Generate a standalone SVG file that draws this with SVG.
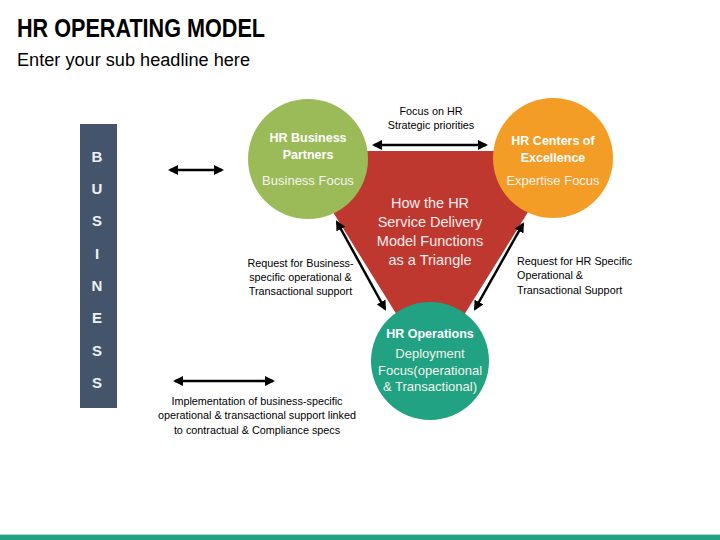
<svg xmlns="http://www.w3.org/2000/svg" width="720" height="540" viewBox="0 0 720 540">
<defs>
<marker id="ah" viewBox="0 0 10 10" refX="8" refY="5" markerWidth="4" markerHeight="4" orient="auto-start-reverse" markerUnits="strokeWidth">
<path d="M0,0 L10,5 L0,10 Z" fill="#000"/>
</marker>
<style>
text{font-family:"Liberation Sans",Arial,sans-serif}
.t{font-size:25px;font-weight:bold;fill:#000}
.s{font-size:18px;fill:#000}
.bl{font-size:15px;font-weight:bold;fill:#EEF0F3;text-anchor:middle}
.nh{font-size:12.5px;font-weight:bold;fill:#fff;text-anchor:middle}
.nb{font-size:13px;fill:#F4F4EC;text-anchor:middle}
.ct{font-size:14.5px;fill:#FBEDEC;text-anchor:middle}
.lb{font-size:10.8px;fill:#000}
.con{stroke:#000;stroke-width:2.5;fill:none;marker-start:url(#ah);marker-end:url(#ah)}
</style>
</defs>
<rect width="720" height="540" fill="#fff"/>
<text class="t" x="17" y="37" textLength="248" lengthAdjust="spacingAndGlyphs">HR OPERATING MODEL</text>
<text class="s" x="17" y="66" textLength="233" lengthAdjust="spacingAndGlyphs">Enter your sub headline here</text>

<g id="business">
<rect x="80" y="124" width="37" height="284" fill="#44546A"/>
<text class="bl" x="97" y="162">B</text>
<text class="bl" x="97" y="194">U</text>
<text class="bl" x="97" y="226">S</text>
<text class="bl" x="97" y="259">I</text>
<text class="bl" x="97" y="291">N</text>
<text class="bl" x="97" y="323">E</text>
<text class="bl" x="97" y="356">S</text>
<text class="bl" x="97" y="388">S</text>
</g>

<g id="triangle">
<polygon points="295,151 566,151 430.5,369" fill="#BF3830"/>
<text class="ct" x="430" y="208">How the HR</text>
<text class="ct" x="430" y="227">Service Delivery</text>
<text class="ct" x="430" y="246">Model Functions</text>
<text class="ct" x="430" y="265">as a Triangle</text>
</g>

<g id="hr-business-partners">
<circle cx="308" cy="159" r="60" fill="#9BBB59"/>
<text class="nh" x="308" y="142">HR Business</text>
<text class="nh" x="308" y="159">Partners</text>
<text class="nb" x="308" y="185">Business Focus</text>
</g>

<g id="hr-centers">
<circle cx="553" cy="158" r="60" fill="#F39C26"/>
<text class="nh" x="553" y="145">HR Centers of</text>
<text class="nh" x="553" y="162">Excellence</text>
<text class="nb" x="553" y="185">Expertise Focus</text>
</g>

<g id="hr-operations">
<circle cx="430" cy="361" r="59" fill="#20A283"/>
<text class="nh" x="430" y="338">HR Operations</text>
<text class="nb" x="430" y="358">Deployment</text>
<text class="nb" x="430" y="375">Focus(operational</text>
<text class="nb" x="430" y="391">&amp; Transactional)</text>
</g>

<g id="connectors">
<line class="con" x1="170" y1="170" x2="222" y2="170"/>
<line class="con" x1="175" y1="381" x2="273" y2="381"/>
<line class="con" x1="374" y1="145" x2="486" y2="145"/>
<line class="con" x1="337" y1="222" x2="385" y2="309"/>
<line class="con" x1="523" y1="224" x2="475" y2="309"/>
</g>

<g id="labels">
<text class="lb" x="431" y="115" text-anchor="middle">Focus on HR</text>
<text class="lb" x="431" y="129" text-anchor="middle">Strategic priorities</text>
<text class="lb" x="300.5" y="267" text-anchor="middle">Request for Business-</text>
<text class="lb" x="300.5" y="281" text-anchor="middle">specific operational &amp;</text>
<text class="lb" x="300.5" y="295" text-anchor="middle">Transactional support</text>
<text class="lb" x="517" y="265">Request for HR Specific</text>
<text class="lb" x="517" y="279">Operational &amp;</text>
<text class="lb" x="517" y="294">Transactional Support</text>
<text class="lb" x="257" y="405" text-anchor="middle">Implementation of business-specific</text>
<text class="lb" x="257" y="419" text-anchor="middle">operational &amp; transactional support linked</text>
<text class="lb" x="257" y="434" text-anchor="middle">to contractual &amp; Compliance specs</text>
</g>

<rect x="0" y="534" width="720" height="1" fill="#A8DCCD"/>
<rect x="0" y="535" width="720" height="5" fill="#21A383"/>
</svg>
